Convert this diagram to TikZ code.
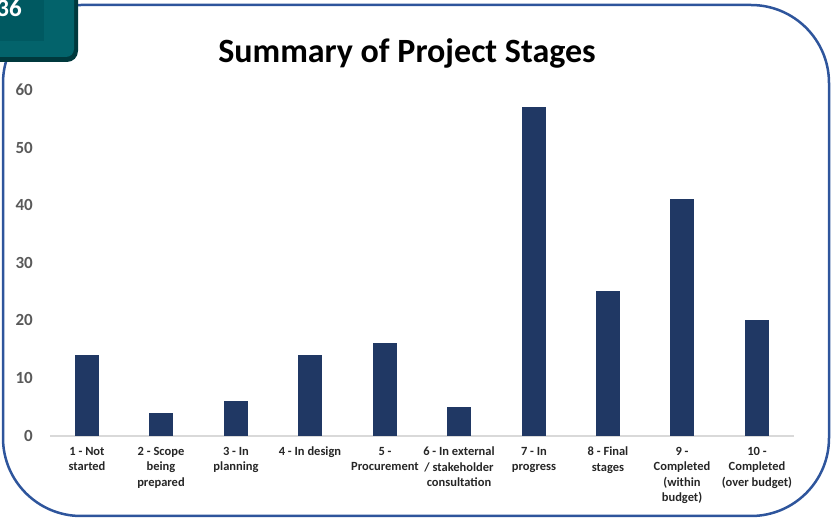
\documentclass[tikz,border=0pt]{standalone}
\usepackage{fontspec}
\setmainfont{Carlito}
\usetikzlibrary{calc,shapes}
\definecolor{Frame}{RGB}{46,85,156}
\definecolor{Bar}{RGB}{32,56,100}
\definecolor{TabDark}{RGB}{0,57,61}
\definecolor{TabMid}{RGB}{3,99,107}
\definecolor{TabIn}{RGB}{0,89,97}
\definecolor{Tick}{RGB}{89,89,89}
\definecolor{Axis}{RGB}{217,217,217}

\begin{document}
\begin{tikzpicture}[x=1pt, y=-1pt]
			\useasboundingbox (0,0) rectangle (831,518);
			\tikzstyle{bar}=[fill=Bar, draw=none, inner sep=0pt, minimum width=24pt, anchor=south];
			\tikzstyle{cat}=[font=\bfseries\fontsize{12.5}{15.5}\selectfont, text=black!85, align=center, anchor=north, inner sep=0pt];
			\tikzstyle{tick}=[font=\bfseries\fontsize{17}{20}\selectfont, text=Tick, anchor=east, inner sep=0pt];
			% frame and tab
			\draw[Frame, line width=2.5pt, rounded corners=78pt] (3,5) rectangle (829,516);
			\fill[TabDark, rounded corners=11pt] (-20,-20) rectangle (78,62);
			\fill[TabMid, rounded corners=8pt] (-20,-20) rectangle (74,57);
			\fill[TabIn] (-20,-20) rectangle (44,41);
			\node[font=\bfseries\fontsize{25}{30}\selectfont, text=white, anchor=base east, inner sep=0pt] (tab) at (22,17) {36};
			% title
			\node[font=\bfseries\fontsize{34}{40}\selectfont, inner sep=0pt, anchor=base] (title) at (407,63) {Summary of Project Stages};
			% axis
			\node[tick] (t0) at (33,436) {0};
			\node[tick] (t10) at (33,378) {10};
			\node[tick] (t20) at (33,320) {20};
			\node[tick] (t30) at (33,263) {30};
			\node[tick] (t40) at (33,205) {40};
			\node[tick] (t50) at (33,148) {50};
			\node[tick] (t60) at (33,90) {60};
			\coordinate (ax0) at (50,436);
			\coordinate (ax1) at (794,436);
			\draw[Axis, line width=1.2pt] (ax0) -- (ax1);
			% bars (5.77pt per unit)
			\node[bar, minimum height=80.8pt] (b1) at (87,436) {};
			\node[bar, minimum height=23.1pt] (b2) at (161,436) {};
			\node[bar, minimum height=34.6pt] (b3) at (236,436) {};
			\node[bar, minimum height=80.8pt] (b4) at (310,436) {};
			\node[bar, minimum height=92.3pt] (b5) at (385,436) {};
			\node[bar, minimum height=28.9pt] (b6) at (459,436) {};
			\node[bar, minimum height=328.9pt] (b7) at (534,436) {};
			\node[bar, minimum height=144.3pt] (b8) at (608,436) {};
			\node[bar, minimum height=236.6pt] (b9) at (682,436) {};
			\node[bar, minimum height=115.4pt] (b10) at (757,436) {};
			% categories
			\node[cat] (c1) at (87,447) {1 - Not\\started};
			\node[cat] (c2) at (161,447) {2 - Scope\\being\\prepared};
			\node[cat] (c3) at (236,447) {3 - In\\planning};
			\node[cat] (c4) at (310,447) {4 - In design};
			\node[cat] (c5) at (385,447) {5 -\\Procurement};
			\node[cat] (c6) at (459,447) {6 - In external\\/ stakeholder\\consultation};
			\node[cat] (c7) at (534,447) {7 - In\\progress};
			\node[cat] (c8) at (608,447) {8 - Final\\stages};
			\node[cat] (c9) at (682,447) {9 -\\Completed\\(within\\budget)};
			\node[cat] (c10) at (757,447) {10 -\\Completed\\(over budget)};
		\end{tikzpicture}
\end{document}
